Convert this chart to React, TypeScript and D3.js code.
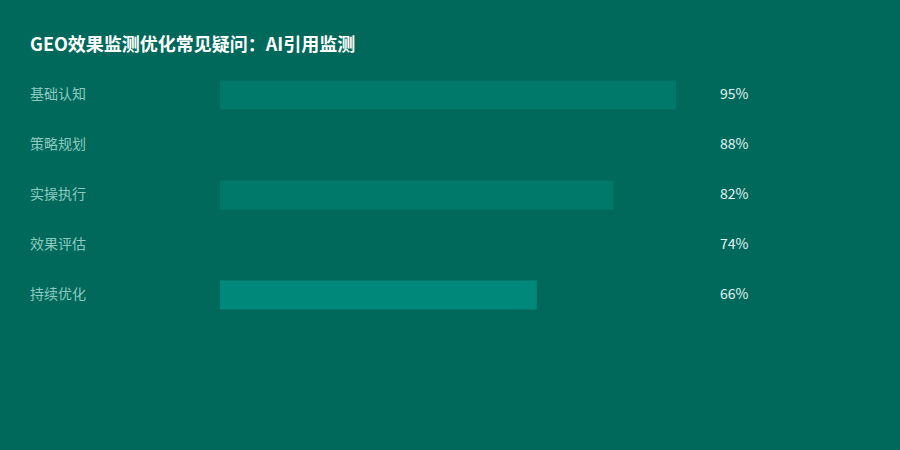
import React, { useEffect, useRef } from 'react';
import * as d3 from 'd3';

const TITLE = 'GEO效果监测优化常见疑问：AI引用监测';
const categories = ['基础认知', '策略规划', '实操执行', '效果评估', '持续优化'];
const values = [95, 88, 82, 74, 66];
const barColors = ['#00796B', '#00695C', '#00796B', '#00695C', '#00897B'];

const WIDTH = 900;
const HEIGHT = 450;
const FONT = '"Noto Sans CJK SC", "Noto Sans", sans-serif';

const App: React.FC = () => {
  const svgRef = useRef<SVGSVGElement>(null);

  useEffect(() => {
    if (!svgRef.current) return;
    const svg = d3.select(svgRef.current);
    svg.selectAll('*').remove();

    svg.append('rect')
      .attr('width', WIDTH)
      .attr('height', HEIGHT)
      .attr('fill', '#00695C');

    svg.append('text')
      .attr('x', 30)
      .attr('y', 51)
      .style('font-family', FONT)
      .style('font-size', '18px')
      .style('font-weight', '700')
      .style('fill', '#FFFFFF')
      .text(TITLE);

    // horizontal scale: 0..100 maps onto 220..700
    const x = d3.scaleLinear().domain([0, 100]).range([220, 700]);
    const y = d3.scaleBand<string>()
      .domain(categories)
      .range([70, 320])
      .paddingInner(0.42)
      .paddingOuter(0.21);

    const rows = svg.selectAll('.row')
      .data(categories)
      .enter()
      .append('g')
      .attr('class', 'row');

    rows.append('rect')
      .attr('x', x(0))
      .attr('y', d => y(d)!)
      .attr('width', (d, i) => x(values[i]) - x(0))
      .attr('height', y.bandwidth())
      .attr('fill', (d, i) => barColors[i]);

    rows.append('text')
      .attr('x', 30)
      .attr('y', d => y(d)! + y.bandwidth() / 2 - 1)
      .attr('dy', '0.35em')
      .style('font-family', FONT)
      .style('font-size', '14px')
      .style('fill', '#8CC9BF')
      .text(d => d);

    rows.append('text')
      .attr('x', 720)
      .attr('y', d => y(d)! + y.bandwidth() / 2 - 1)
      .attr('dy', '0.35em')
      .style('font-family', FONT)
      .style('font-size', '14px')
      .style('fill', '#E0F2F1')
      .text((d, i) => `${values[i]}%`);
  }, []);

  return (
    <div style={{ position: 'fixed', left: 0, top: 0 }}>
      <svg ref={svgRef} width={WIDTH} height={HEIGHT} style={{ display: 'block' }} />
    </div>
  );
};

export default App;
